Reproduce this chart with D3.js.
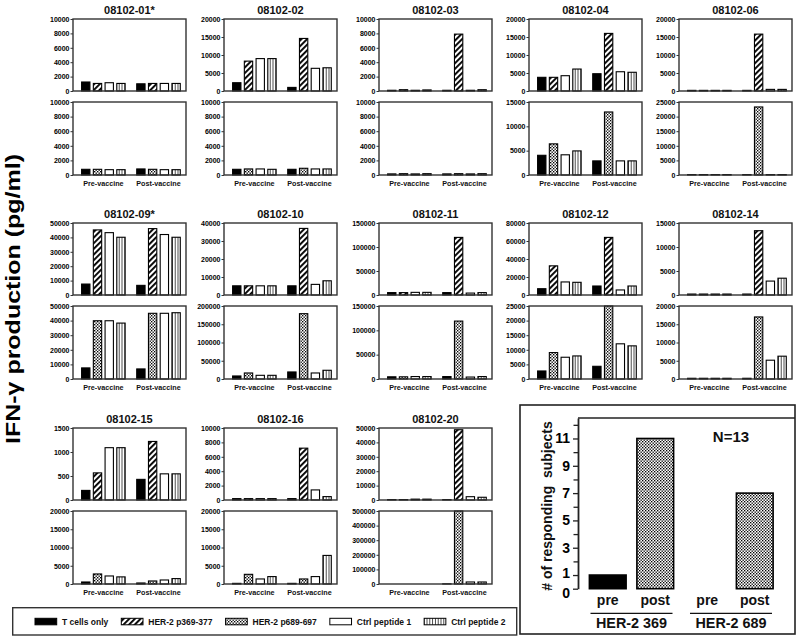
<!DOCTYPE html>
<html><head><meta charset="utf-8">
<script src="https://cdn.jsdelivr.net/npm/d3@7"></script>
<style>
body{margin:0;background:#fff;}
svg{display:block;}
</style></head><body>
<svg id="chart" width="800" height="641"></svg>
<script>
// ---------------- DATA ----------------
const subjects = ["08102-01*","08102-02","08102-03","08102-04","08102-06",
                  "08102-09*","08102-10","08102-11","08102-12","08102-14",
                  "08102-15","08102-16","08102-20"];
const groups = ["Pre-vaccine","Post-vaccine"];
const topSeries = ["T cells only","HER-2 p369-377","Ctrl peptide 1","Ctrl peptide 2"];
const bottomSeries = ["T cells only","HER-2 p689-697","Ctrl peptide 1","Ctrl peptide 2"];
const legendSeries = ["T cells only","HER-2 p369-377","HER-2 p689-697","Ctrl peptide 1","Ctrl peptide 2"];

const topTicks = [
  [0,2000,4000,6000,8000,10000],
  [0,5000,10000,15000,20000],
  [0,2000,4000,6000,8000,10000],
  [0,5000,10000,15000,20000],
  [0,5000,10000,15000,20000],
  [0,10000,20000,30000,40000,50000],
  [0,10000,20000,30000,40000],
  [0,50000,100000,150000],
  [0,20000,40000,60000,80000],
  [0,5000,10000,15000],
  [0,500,1000,1500],
  [0,2000,4000,6000,8000,10000],
  [0,10000,20000,30000,40000,50000]
];
const bottomTicks = [
  [0,2000,4000,6000,8000,10000],
  [0,2000,4000,6000,8000,10000],
  [0,2000,4000,6000,8000,10000],
  [0,5000,10000,15000],
  [0,5000,10000,15000,20000,25000],
  [0,10000,20000,30000,40000,50000],
  [0,50000,100000,150000,200000],
  [0,50000,100000,150000],
  [0,5000,10000,15000,20000,25000],
  [0,5000,10000,15000,20000],
  [0,5000,10000,15000,20000],
  [0,5000,10000,15000,20000],
  [0,100000,200000,300000,400000,500000]
];
// values: [ [pre: T, HER-2, Ctrl1, Ctrl2], [post: T, HER-2, Ctrl1, Ctrl2] ]
const topValues = [
  [[1250,1050,1150,1050],[1000,1050,1050,1050]],
  [[2300,8300,9000,9000],[1000,14600,6300,6450]],
  [[100,180,100,150],[100,7900,100,180]],
  [[3800,3800,4250,6100],[4800,16000,5350,5200]],
  [[180,180,180,180],[180,15800,450,450]],
  [[7600,45200,43300,40100],[6700,46100,42000,40100]],
  [[5100,5100,5100,5100],[5100,37000,5900,7900]],
  [[5000,5000,5500,5500],[5000,120000,4000,5000]],
  [[7000,32400,14500,14100],[10000,64000,5600,10000]],
  [[200,200,200,200],[200,13400,2900,3500]],
  [[200,565,1090,1090],[430,1220,545,545]],
  [[190,190,190,190],[190,7200,1400,470]],
  [[300,300,600,600],[300,48800,2300,1900]]
];
const bottomValues = [
  [[780,780,730,730],[830,780,730,730]],
  [[780,830,830,780],[780,920,830,830]],
  [[150,180,150,180],[150,180,150,180]],
  [[4050,6400,4150,4950],[2900,12950,2900,2900]],
  [[150,150,150,150],[150,23300,150,150]],
  [[7600,39900,39900,38300],[6900,45000,45000,45400]],
  [[8300,16500,10100,10100],[19300,179000,16500,23900]],
  [[4500,4500,5000,5000],[5000,119000,4000,5000]],
  [[2750,9050,7450,7900],[4350,25000,12050,11350]],
  [[200,200,200,200],[200,17000,5150,6250]],
  [[550,2750,2200,1950],[280,830,1100,1480]],
  [[180,2650,1380,2030],[180,1380,2030,7830]],
  [[0,0,0,0],[1000,500000,13800,13800]]
];

const summaryGroups = ["HER-2 369","HER-2 689"];
const summaryPhases = ["pre","post"];
const summaryValues = [[1,11],[0,7]];
const summaryTicks = [0,1,3,5,7,9,11];
const summaryMinorTicks = [2,4,6,8,10,12];
const summaryMax = 12.5;

// ---------------- DRAWING ----------------
const FONT = "'Liberation Sans', Arial, Helvetica, sans-serif";
const svg = d3.select("#chart").attr("font-family", FONT).attr("font-weight","bold");
const defs = svg.append("defs");

const hatch = defs.append("pattern").attr("id","hatch").attr("patternUnits","userSpaceOnUse")
  .attr("width",4).attr("height",4).attr("patternTransform","rotate(45)");
hatch.append("rect").attr("width",4).attr("height",4).attr("fill","#fff");
hatch.append("rect").attr("x",0).attr("width",1.9).attr("height",4).attr("fill","#000");

const dots = defs.append("pattern").attr("id","dots").attr("patternUnits","userSpaceOnUse")
  .attr("width",3).attr("height",3);
dots.append("rect").attr("width",3).attr("height",3).attr("fill","#fff");
dots.append("rect").attr("x",0).attr("y",0).attr("width",1.35).attr("height",1.35).attr("fill","#000");
dots.append("rect").attr("x",1.5).attr("y",1.5).attr("width",1.35).attr("height",1.35).attr("fill","#000");

const vstripe = defs.append("pattern").attr("id","vstripe").attr("patternUnits","userSpaceOnUse")
  .attr("width",2.8).attr("height",4);
vstripe.append("rect").attr("width",2.8).attr("height",4).attr("fill","#fff");
vstripe.append("rect").attr("x",1).attr("width",0.8).attr("height",4).attr("fill","#222");

const fills = {
  "T cells only":"#000",
  "HER-2 p369-377":"url(#hatch)",
  "HER-2 p689-697":"url(#dots)",
  "Ctrl peptide 1":"#fff",
  "Ctrl peptide 2":"url(#vstripe)"
};

// layout
const colX = [73,224,379,529,679];
const rowY = [19,223,428];
const W = 113, topH = 72, botOff = 83, botH = 73;

function drawPanel(px, py, h, series, ticks, vals, withLabels){
  const g = svg.append("g").attr("transform",`translate(${px},${py})`);
  const y = d3.scaleLinear().domain([0, ticks[ticks.length-1]]).range([h,0]);
  const x0 = d3.scaleBand().domain(groups).range([0,W]).paddingInner(0.21).paddingOuter(0.13).align(0.6);
  const x1 = d3.scaleBand().domain(series).range([0,x0.bandwidth()]).paddingInner(0.29).paddingOuter(0);
  groups.forEach((grp,gi)=>{
    g.append("g").selectAll("rect")
      .data(series.map((s,si)=>({s, v: vals[gi][si]})).filter(d=>d.v>0))
      .join("rect")
      .attr("x",d=>x0(grp)+x1(d.s)).attr("y",d=>y(d.v))
      .attr("width",x1.bandwidth()).attr("height",d=>h-y(d.v))
      .attr("fill",d=>fills[d.s]).attr("stroke","#000").attr("stroke-width",1.1);
  });
  g.append("rect").attr("width",W).attr("height",h).attr("fill","none")
    .attr("stroke","#333").attr("stroke-width",1.4);
  const ax = d3.axisLeft(y).tickValues(ticks).tickSize(2.5).tickPadding(1).tickFormat(d3.format("d"));
  g.append("g").call(ax)
    .attr("font-size",7).attr("font-family",FONT).attr("font-weight","bold")
    .call(a=>a.select(".domain").remove())
    .call(a=>a.selectAll(".tick line").attr("stroke","#333"));
  if(withLabels){
    g.append("g").selectAll("text").data(groups).join("text")
      .attr("x",d=>x0(d)+x0.bandwidth()/2).attr("y",h+11)
      .attr("text-anchor","middle").attr("font-size",7.2).attr("fill","#111")
      .text(d=>d);
  }
}

subjects.forEach((name,i)=>{
  const r = Math.floor(i/5), c = i%5;
  const px = colX[c], py = rowY[r];
  svg.append("text").attr("x",px+W/2).attr("y",py-5).attr("text-anchor","middle")
    .attr("font-size",11).attr("fill","#111").text(name);
  drawPanel(px, py, topH, topSeries, topTicks[i], topValues[i], false);
  drawPanel(px, py+botOff, botH, bottomSeries, bottomTicks[i], bottomValues[i], true);
});

// main y title
svg.append("text").attr("transform","translate(20,299) rotate(-90)")
  .attr("text-anchor","middle").attr("font-size",20.5).attr("fill","#000")
  .attr("textLength",290).attr("lengthAdjust","spacingAndGlyphs")
  .text("IFN-\u03b3 production (pg/ml)");

// legend
svg.append("rect").attr("x",12.7).attr("y",607.7).attr("width",504).attr("height",27.3)
  .attr("fill","none").attr("stroke","#333").attr("stroke-width",1.4);
{
  let lx = 35;
  legendSeries.forEach(s=>{
    svg.append("rect").attr("x",lx).attr("y",618.3).attr("width",21.7).attr("height",6.5)
      .attr("fill",fills[s]).attr("stroke","#000").attr("stroke-width",1);
    const t = svg.append("text").attr("x",lx+27).attr("y",624.6).attr("font-size",8.5)
      .attr("fill","#111").text(s);
    lx += 27 + t.node().getComputedTextLength() + 13;
  });
}

// summary panel
svg.append("rect").attr("x",520).attr("y",405).attr("width",275).attr("height",229)
  .attr("fill","none").attr("stroke","#222").attr("stroke-width",1.6);
const sy = d3.scaleLinear().domain([0,summaryMax]).range([588.7,418]);
const sx0 = d3.scaleBand().domain(summaryGroups).range([584,778.5]).paddingInner(0.045).paddingOuter(0);
const sx1 = d3.scaleBand().domain(summaryPhases).range([0,sx0.bandwidth()]).paddingInner(0.227).paddingOuter(0.1135);
const sg = svg.append("g");
summaryGroups.forEach((grp,gi)=>{
  sg.append("g").selectAll("rect")
    .data(summaryPhases.map((p,pi)=>({p, v: summaryValues[gi][pi]})).filter(d=>d.v>0))
    .join("rect")
    .attr("x",d=>sx0(grp)+sx1(d.p)).attr("y",d=>sy(d.v))
    .attr("width",sx1.bandwidth()).attr("height",d=>sy(0)-sy(d.v))
    .attr("fill",d=>d.p==="pre"?"#000":"url(#dots)").attr("stroke","#000").attr("stroke-width",1.6);
  sg.append("g").selectAll("text").data(summaryPhases).join("text")
    .attr("x",d=>sx0(grp)+sx1(d)+sx1.bandwidth()/2).attr("y",605)
    .attr("text-anchor","middle").attr("font-size",14).attr("fill","#111").text(d=>d);
  const gx = sx0(grp)+sx0.bandwidth()/2;
  sg.append("line").attr("x1",gx-41).attr("x2",gx+41).attr("y1",613.3).attr("y2",613.3)
    .attr("stroke","#111").attr("stroke-width",1.3);
  sg.append("text").attr("x",gx).attr("y",628.3).attr("text-anchor","middle")
    .attr("font-size",14.4).attr("fill","#111").text(grp);
});
svg.append("line").attr("x1",578).attr("x2",795).attr("y1",418).attr("y2",418)
  .attr("stroke","#222").attr("stroke-width",1.6);
svg.append("g").attr("transform","translate(578,0)")
  .call(d3.axisLeft(sy).tickValues(summaryTicks).tickSize(5).tickSizeOuter(0).tickPadding(3).tickFormat(d3.format("d")))
  .attr("font-size",14).attr("font-family",FONT).attr("font-weight","bold")
  .call(a=>a.select(".domain").attr("stroke","#222").attr("stroke-width",1.8))
  .call(a=>a.selectAll(".tick line").attr("stroke","#222").attr("stroke-width",1.3))
  .call(a=>a.selectAll(".tick").filter(d=>d===0).select("text").attr("dy","0.62em"))
  .call(a=>a.selectAll(".tick").filter(d=>d===1).select("text").attr("dy","0.2em"));
svg.append("g").attr("transform","translate(578,0)")
  .call(d3.axisLeft(sy).tickValues(summaryMinorTicks).tickSize(4.5).tickSizeOuter(0).tickFormat(""))
  .call(a=>a.select(".domain").remove())
  .call(a=>a.selectAll(".tick line").attr("stroke","#222").attr("stroke-width",1.3));
svg.append("text").attr("transform","translate(552,506) rotate(-90)")
  .attr("text-anchor","middle").attr("font-size",14).attr("fill","#111")
  .text("# of responding\u00a0 subjects");
svg.append("text").attr("x",731).attr("y",442).attr("text-anchor","middle")
  .attr("font-size",15).attr("fill","#111").text("N=13");
</script>
</body></html>
